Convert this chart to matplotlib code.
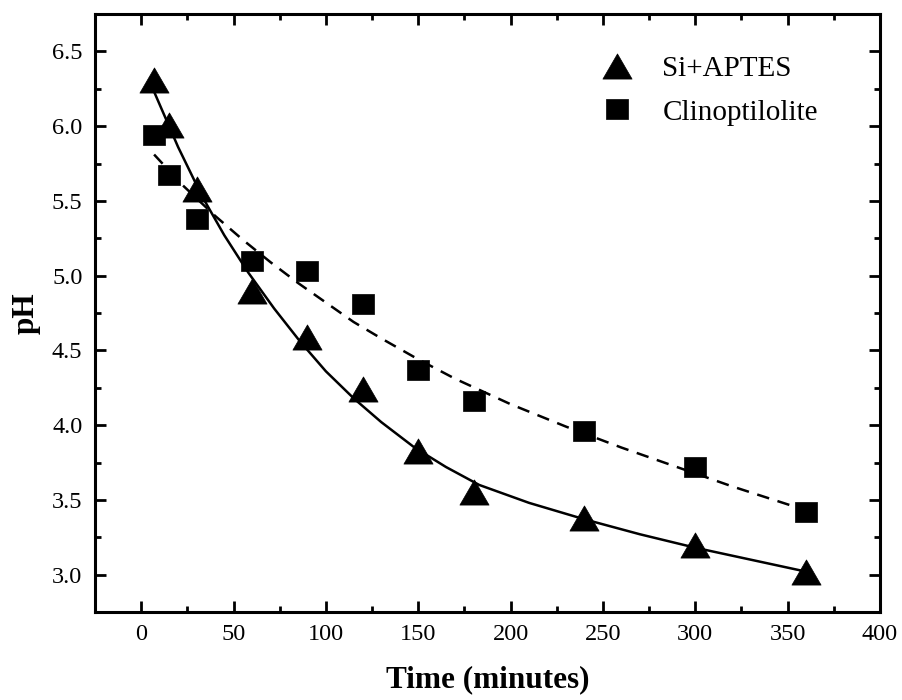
import matplotlib
matplotlib.use("Agg")
import matplotlib.pyplot as plt
from matplotlib.ticker import MultipleLocator, FormatStrFormatter
from matplotlib.path import Path

# measured points
time_si = [7, 15, 30, 60, 90, 120, 150, 180, 240, 300, 360]
ph_si = [6.31, 6.01, 5.58, 4.90, 4.59, 4.24, 3.83, 3.55, 3.38, 3.20, 3.02]

time_clino = [7, 15, 30, 60, 90, 120, 150, 180, 240, 300, 360]
ph_clino = [5.94, 5.67, 5.38, 5.10, 5.03, 4.81, 4.37, 4.16, 3.96, 3.72, 3.42]

# fitted curves
fit_t_si = [7, 20, 33, 45, 58, 72, 86, 100, 115, 130, 148, 165, 183, 210,
            240, 270, 300, 330, 360]
fit_ph_si = [6.23, 5.86, 5.53, 5.27, 5.02, 4.78, 4.56, 4.36, 4.18, 4.02,
             3.85, 3.72, 3.60, 3.48, 3.37, 3.27, 3.18, 3.10, 3.02]

fit_t_clino = [7, 22, 40, 55, 70, 85, 100, 115, 130, 150, 170, 200, 230,
               260, 290, 320, 345, 360]
fit_ph_clino = [5.81, 5.61, 5.40, 5.24, 5.09, 4.95, 4.82, 4.69, 4.58, 4.44,
                4.31, 4.14, 3.99, 3.85, 3.72, 3.59, 3.49, 3.43]

# the source picture is a bit stretched sideways, so widen the markers
tri = Path([(-1.16, -1), (1.16, -1), (0, 1), (-1.16, -1)],
           [Path.MOVETO, Path.LINETO, Path.LINETO, Path.CLOSEPOLY])
sq = Path([(-1.1, -1), (1.1, -1), (1.1, 1), (-1.1, 1), (-1.1, -1)],
          [Path.MOVETO, Path.LINETO, Path.LINETO, Path.LINETO, Path.CLOSEPOLY])

plt.rcParams['font.family'] = ['Liberation Serif', 'DejaVu Serif']

fig = plt.figure(figsize=(9.02, 7.0), dpi=100)
ax = fig.add_axes([95 / 902, 88 / 700, 785 / 902, 598 / 700])

ax.plot(fit_t_si, fit_ph_si, color='black', lw=1.8, zorder=2)
ax.plot(fit_t_clino, fit_ph_clino, color='black', lw=1.8,
        dashes=(5, 3.5), zorder=2)

ax.plot(time_si, ph_si, linestyle='none', marker=tri, ms=21,
        color='black', mew=0.5, label='Si+APTES', zorder=3)
ax.plot(time_clino, ph_clino, linestyle='none', marker=sq, ms=16,
        color='black', mew=0.5, label='Clinoptilolite', zorder=3)

ax.set_xlim(-25, 400)
ax.set_ylim(2.75, 6.75)
ax.xaxis.set_major_locator(MultipleLocator(50))
ax.xaxis.set_minor_locator(MultipleLocator(25))
ax.yaxis.set_major_locator(MultipleLocator(0.5))
ax.yaxis.set_minor_locator(MultipleLocator(0.25))
ax.yaxis.set_major_formatter(FormatStrFormatter('%.1f'))

ax.tick_params(which='both', direction='in', top=True, right=True,
               width=2, labelsize=17.5)
ax.tick_params(which='major', length=8, pad=9)
ax.tick_params(which='minor', length=4)
for sp in ax.spines.values():
    sp.set_linewidth(2.2)

ax.set_xlabel('Time (minutes)', fontsize=22.5, fontweight='bold', labelpad=14)
ax.set_ylabel('pH', fontsize=22.5, fontweight='bold', labelpad=8)

ax.legend(loc='upper left', bbox_to_anchor=(0.628, 0.955), frameon=False,
          fontsize=21, handlelength=1.0, handletextpad=1.05,
          borderpad=0, labelspacing=0.59)

fig.savefig('out.png', dpi=100)
